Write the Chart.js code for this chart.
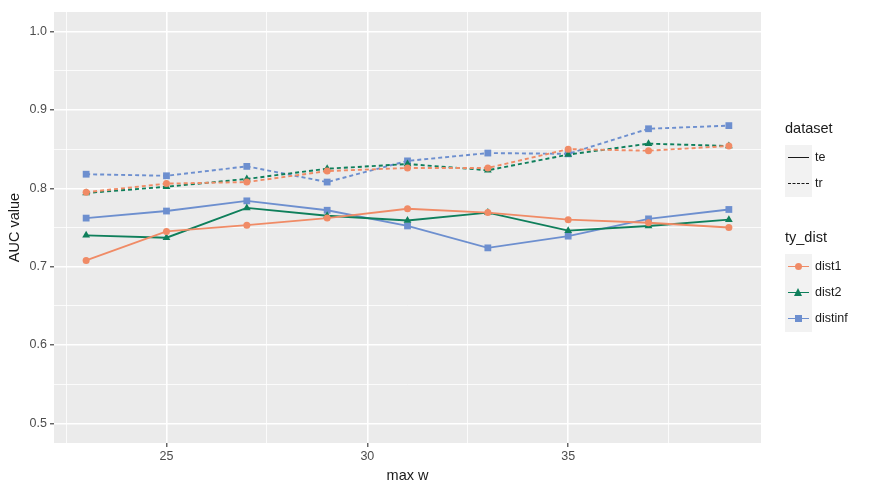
<!DOCTYPE html>
<html>
<head>
<meta charset="utf-8">
<script src="https://cdn.jsdelivr.net/npm/chart.js@4.4.1/dist/chart.umd.min.js"></script>
<style>
  html, body { margin: 0; padding: 0; background: #fff; }
  #wrap { position: relative; width: 872px; height: 491px; font-family: "Liberation Sans", Arial, sans-serif; }
  #legend { position: absolute; left: 785px; top: 120px; color: #1a1a1a; }
  .ltitle { font-size: 14.5px; margin-bottom: 9px; }
  .keys { background: #f2f2f2; width: 27px; }
  .row { position: relative; height: 26px; }
  .lab { position: absolute; left: 30px; top: 5px; font-size: 12.5px; white-space: nowrap; }
  .ln { position: absolute; left: 3px; top: 12px; width: 21px; height: 0; }
</style>
</head>
<body>
<div id="wrap">
  <canvas id="c" width="872" height="491"></canvas>
  <div id="legend"></div>
</div>
<script>
const maxW = [23, 25, 27, 29, 31, 33, 35, 37, 39];

const dist1Te   = [0.708, 0.745, 0.753, 0.762, 0.774, 0.769, 0.760, 0.756, 0.750];
const dist2Te   = [0.740, 0.737, 0.775, 0.765, 0.759, 0.769, 0.746, 0.752, 0.760];
const distinfTe = [0.762, 0.771, 0.784, 0.772, 0.752, 0.724, 0.739, 0.761, 0.773];
const dist1Tr   = [0.795, 0.806, 0.808, 0.822, 0.826, 0.826, 0.850, 0.848, 0.854];
const dist2Tr   = [0.794, 0.802, 0.812, 0.825, 0.831, 0.823, 0.843, 0.857, 0.854];
const distinfTr = [0.818, 0.816, 0.828, 0.808, 0.835, 0.845, 0.844, 0.876, 0.880];

const xMajor = [25, 30, 35];
const xMinor = [22.5, 27.5, 32.5, 37.5];
const yMajor = [0.5, 0.6, 0.7, 0.8, 0.9, 1.0];
const yMinor = [0.55, 0.65, 0.75, 0.85, 0.95];

const colors = { dist1: '#f08b66', dist2: '#0f7f5b', distinf: '#6d8fcf' };
const shapes = { dist1: 'circle', dist2: 'triangle', distinf: 'rect' };
const radii  = { dist1: 3.5, dist2: 4.5, distinf: 4.8 };

function series(name, vals, dashed) {
  return {
    label: name + (dashed ? ' tr' : ' te'),
    data: maxW.map((x, i) => ({ x, y: vals[i] })),
    borderColor: colors[name],
    backgroundColor: colors[name],
    borderWidth: 1.9,
    borderDash: dashed ? [4, 3] : [],
    pointStyle: shapes[name],
    pointRadius: radii[name],
    pointBorderWidth: 0,
    pointBackgroundColor: colors[name],
    tension: 0
  };
}

const isMajor = (list, v) => list.some(m => Math.abs(m - v) < 1e-9);

const panelBg = {
  id: 'panelBg',
  beforeDraw(chart) {
    const a = chart.chartArea, ctx = chart.ctx;
    ctx.save();
    ctx.fillStyle = '#ebebeb';
    ctx.fillRect(a.left, a.top, a.right - a.left, a.bottom - a.top);
    ctx.restore();
  }
};

new Chart(document.getElementById('c'), {
  type: 'line',
  data: {
    datasets: [
      series('dist1', dist1Te, false),
      series('dist2', dist2Te, false),
      series('distinf', distinfTe, false),
      series('dist1', dist1Tr, true),
      series('dist2', dist2Tr, true),
      series('distinf', distinfTr, true)
    ]
  },
  options: {
    responsive: false,
    animation: false,
    layout: { padding: { left: 0, right: 111, top: 12, bottom: 6 } },
    plugins: { legend: { display: false }, tooltip: { enabled: false } },
    scales: {
      x: {
        type: 'linear',
        min: 22.2, max: 39.8,
        afterBuildTicks: s => { s.ticks = xMajor.concat(xMinor).sort((a, b) => a - b).map(v => ({ value: v })); },
        afterFit: s => { s.height = 42; },
        border: { display: false },
        grid: {
          color: '#ffffff',
          lineWidth: c => isMajor(xMajor, c.tick.value) ? 1.6 : 0.8,
          tickColor: c => isMajor(xMajor, c.tick.value) ? '#333333' : 'rgba(0,0,0,0)',
          tickLength: 4,
          tickWidth: 1.1
        },
        ticks: {
          autoSkip: false, maxRotation: 0, padding: 2,
          color: '#4d4d4d', font: { family: 'Liberation Sans', size: 12.5 },
          callback: v => isMajor(xMajor, v) ? String(v) : ''
        },
        title: { display: true, text: 'max w', color: '#1a1a1a', font: { family: 'Liberation Sans', size: 14.5 }, padding: { top: 2, bottom: 0 } }
      },
      y: {
        min: 0.475, max: 1.025,
        afterBuildTicks: s => { s.ticks = yMajor.concat(yMinor).sort((a, b) => a - b).map(v => ({ value: v })); },
        afterFit: s => { s.width = 54; },
        border: { display: false },
        grid: {
          color: '#ffffff',
          lineWidth: c => isMajor(yMajor, c.tick.value) ? 1.6 : 0.8,
          tickColor: c => isMajor(yMajor, c.tick.value) ? '#333333' : 'rgba(0,0,0,0)',
          tickLength: 4,
          tickWidth: 1.1
        },
        ticks: {
          autoSkip: false, padding: 3,
          color: '#4d4d4d', font: { family: 'Liberation Sans', size: 12.5 },
          callback: v => isMajor(yMajor, v) ? v.toFixed(1) : ''
        },
        title: { display: true, text: 'AUC value', color: '#1a1a1a', font: { family: 'Liberation Sans', size: 14.5 }, padding: { top: 6, bottom: 0 } }
      }
    }
  },
  plugins: [panelBg]
});

// ggplot-style legend built as HTML
function markerHtml(name) {
  const c = colors[name];
  if (name === 'dist1') return `<div style="position:absolute;left:10px;top:9px;width:7px;height:7px;border-radius:50%;background:${c}"></div>`;
  if (name === 'dist2') return `<div style="position:absolute;left:9px;top:8px;width:0;height:0;border-left:4.5px solid transparent;border-right:4.5px solid transparent;border-bottom:8px solid ${c}"></div>`;
  return `<div style="position:absolute;left:10px;top:9px;width:7px;height:7px;background:${c}"></div>`;
}
const lg = document.getElementById('legend');
let html = '<div class="ltitle">dataset</div><div class="keys">';
html += '<div class="row"><div class="ln" style="border-top:1.8px solid #1a1a1a"></div><div class="lab">te</div></div>';
html += '<div class="row"><div class="ln" style="border-top:1.8px dashed #1a1a1a"></div><div class="lab">tr</div></div>';
html += '</div><div style="height:32px"></div><div class="ltitle">ty_dist</div><div class="keys">';
['dist1', 'dist2', 'distinf'].forEach(n => {
  html += `<div class="row"><div class="ln" style="border-top:1.8px solid ${colors[n]}"></div>${markerHtml(n)}<div class="lab">${n}</div></div>`;
});
html += '</div>';
lg.innerHTML = html;
</script>
</body>
</html>
